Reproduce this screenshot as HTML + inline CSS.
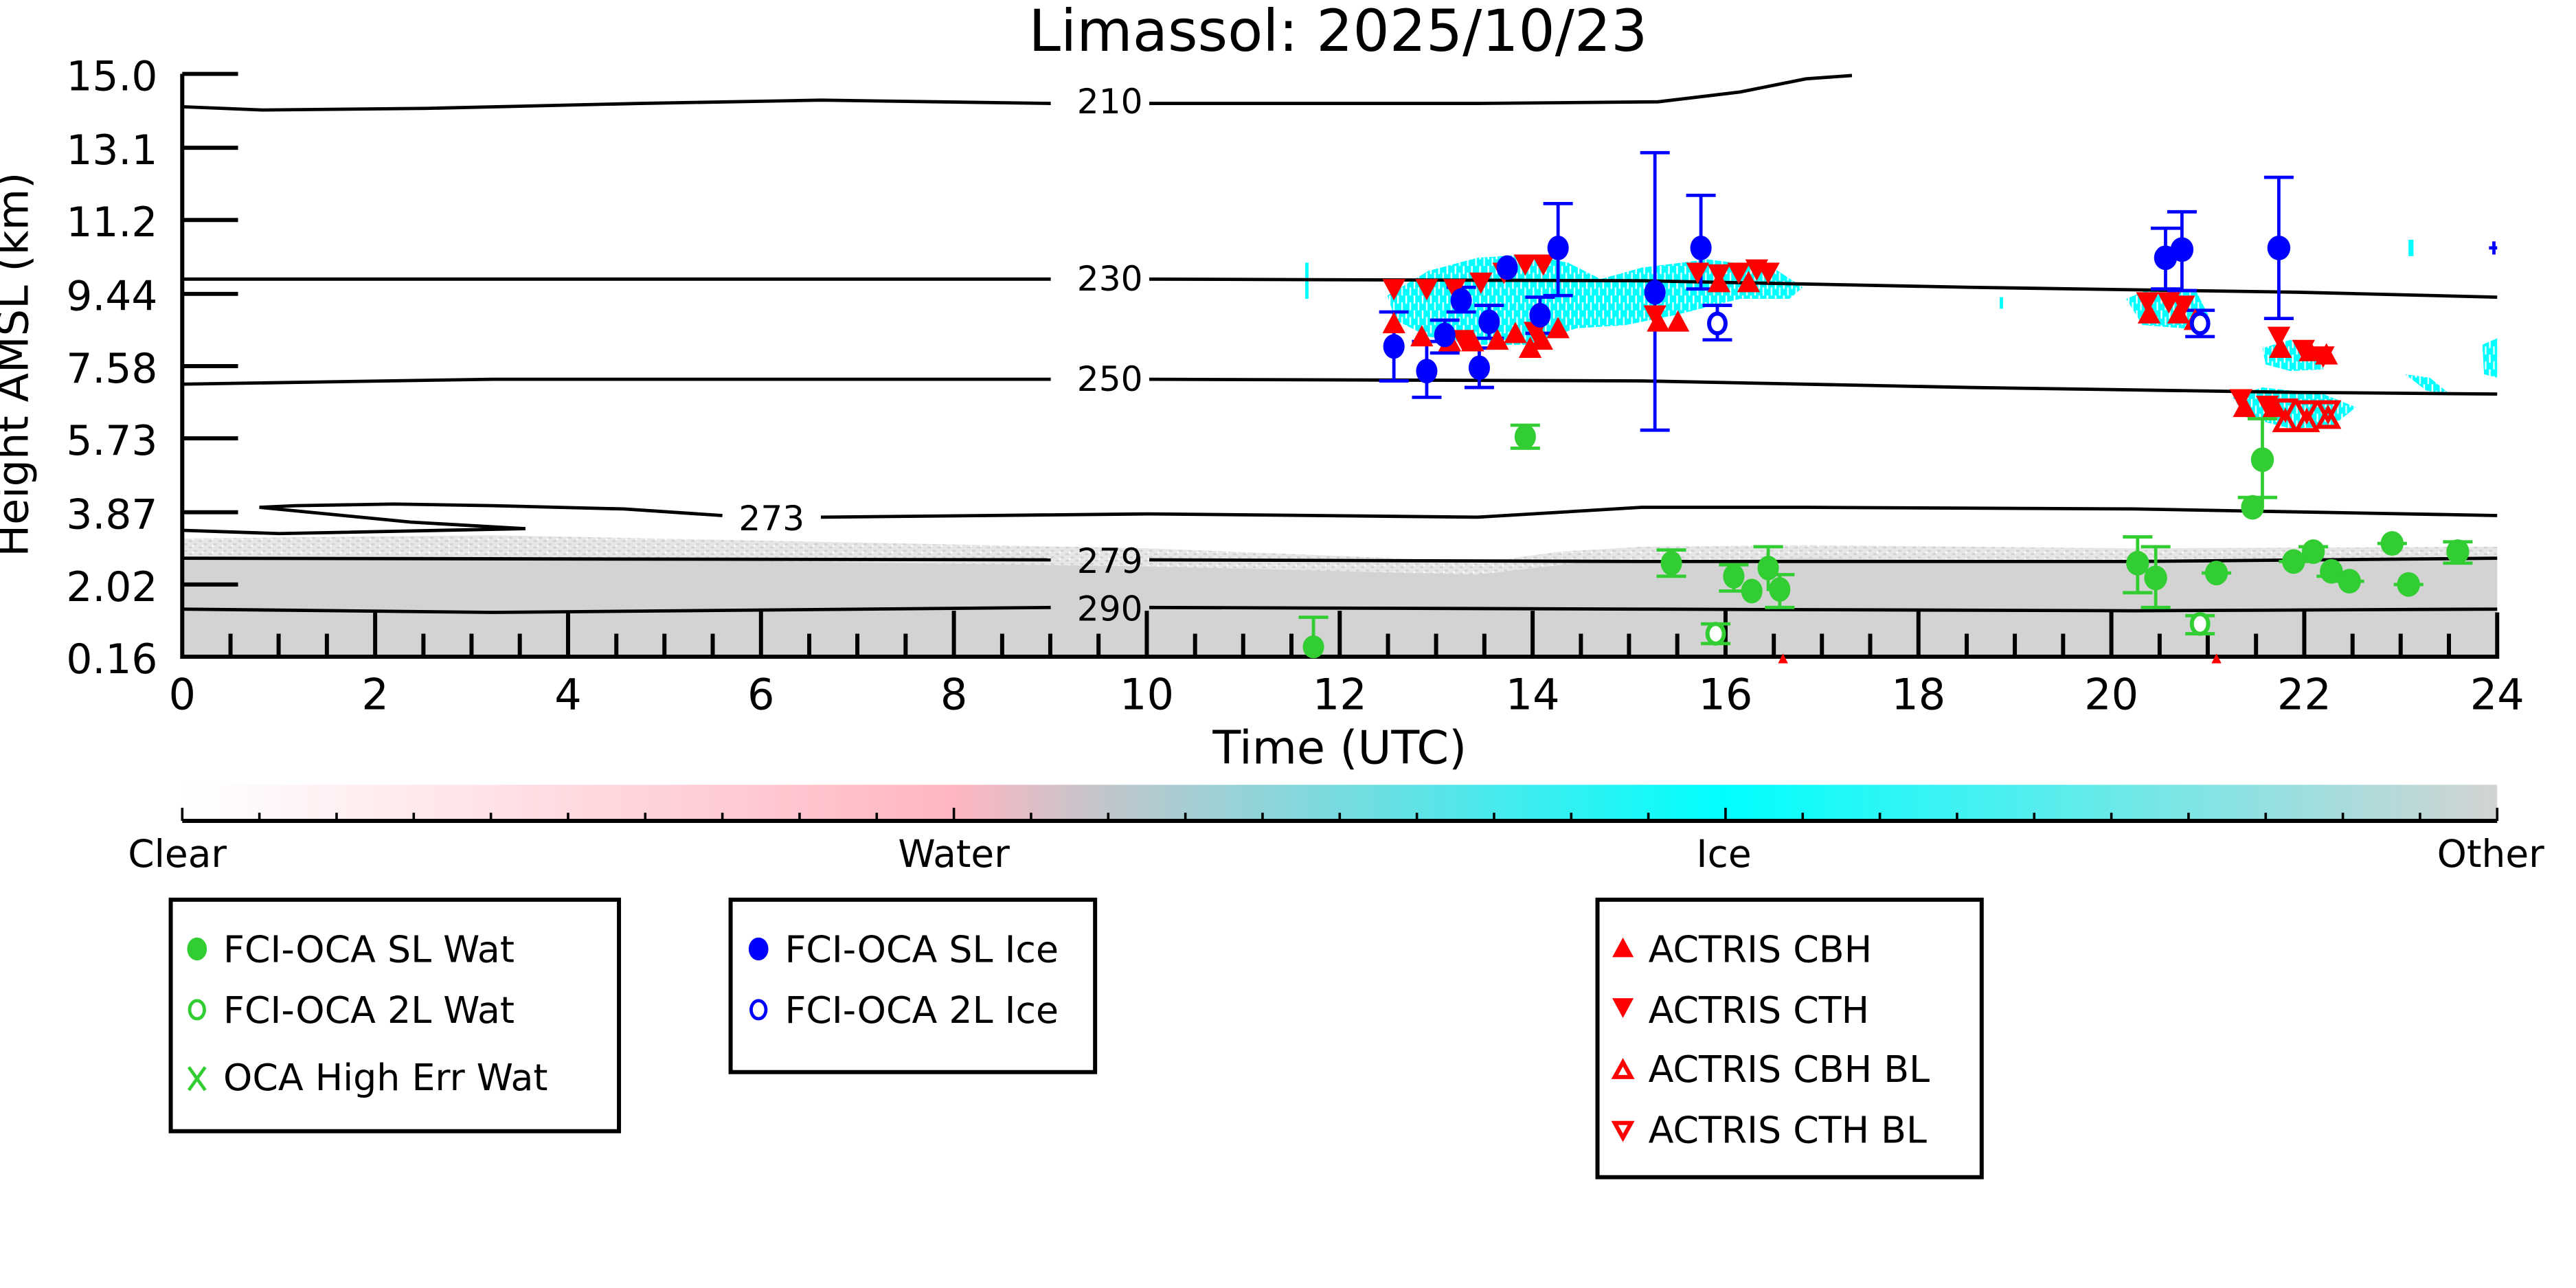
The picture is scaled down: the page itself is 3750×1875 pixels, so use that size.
<!DOCTYPE html>
<html><head><meta charset="utf-8"><style>
html,body{margin:0;padding:0;background:#fff;}
svg{display:block;}
text{font-family:"DejaVu Sans","Liberation Sans",sans-serif;}
</style></head><body>
<svg width="3750" height="1875" viewBox="0 0 1569 784.5" xmlns="http://www.w3.org/2000/svg">
<defs>
<linearGradient id="cb" x1="0" x2="1" y1="0" y2="0">
<stop offset="0" stop-color="#ffffff"/>
<stop offset="0.333" stop-color="#ffb6c1"/>
<stop offset="0.4" stop-color="#bfc6cc"/>
<stop offset="0.667" stop-color="#00ffff"/>
<stop offset="1" stop-color="#d3d3d3"/>
</linearGradient>
<pattern id="spk" width="6" height="4" patternUnits="userSpaceOnUse">
<rect width="6" height="4" fill="#e6e6e6"/>
<rect x="1" y="1" width="2" height="1" fill="#cfcfcf"/>
<rect x="4" y="3" width="2" height="1" fill="#d0d0d0"/>
<rect x="3" y="0" width="1" height="1" fill="#fff"/>
</pattern>
<pattern id="cy" width="5" height="9" patternUnits="userSpaceOnUse">
<rect width="5" height="9" fill="#00ffff"/>
<rect x="1" y="0" width="1" height="5" fill="#fff"/>
<rect x="3.5" y="4" width="1" height="5" fill="#e0ffff"/>
</pattern>
</defs>
<text x="815" y="31" font-size="35" text-anchor="middle">Limassol: 2025/10/23</text>

<!-- grey region -->
<path d="M111,328 L300,326 L500,330 L700,334 L850,340 L900,343 L950,336 L1000,333 L1100,332 L1300,334 L1521,333 L1521,400 L111,400 Z" fill="url(#spk)"/>
<path d="M111,339 L400,341 L700,345 L900,350 L960,343 L1100,340 L1300,342 L1521,340 L1521,400 L111,400 Z" fill="#d3d3d3"/>

<!-- cyan clouds -->
<g fill="url(#cy)">
<path d="M845,180 L870,165 L900,157 L930,155 L955,160 L975,170 L1000,163 L1040,158 L1080,163 L1098,175 L1090,182 L1060,182 L1020,192 L990,198 L960,200 L930,210 L900,210 L870,205 L850,195 Z"/>
<path d="M1295,182 L1312,175 L1338,178 L1345,192 L1330,200 L1305,198 Z"/>
<path d="M1378,212 L1395,207 L1415,213 L1415,225 L1395,226 L1380,222 Z"/>
<path d="M1360,242 L1378,236 L1415,240 L1435,248 L1420,260 L1395,261 L1368,254 Z"/>
<path d="M1465,228 L1480,230 L1492,240 L1478,238 Z"/>
<path d="M1512,210 L1521,206 L1521,230 L1513,228 Z"/>
</g>
<g fill="#00ffff">
<rect x="795" y="160" width="2" height="22"/>
<rect x="1218" y="181" width="2" height="7"/>
<rect x="1467" y="146" width="3" height="10"/>
</g>

<!-- contours -->
<g fill="none" stroke="#000" stroke-width="2">
<path d="M111,65 L160,67 L260,66 L390,63 L500,61 L640,63"/>
<path d="M700,63 L900,63 L1010,62 L1060,56 L1100,48 L1128,46"/>
<path d="M111,170 L640,170"/>
<path d="M700,170 L1000,171 L1200,175 L1400,178 L1521,181"/>
<path d="M111,234 L300,231 L640,231"/>
<path d="M700,231 L1000,232 L1200,236 L1400,239 L1521,240"/>
<path d="M320,322 L250,318 L158,309 L180,308 L240,307 L300,308 L380,310 L440,314"/>
<path d="M111,323 L170,325 L320,322"/>
<path d="M500,315 L700,313 L900,315 L1000,309 L1100,309 L1300,310 L1521,314"/>
<path d="M111,340 L640,341"/>
<path d="M700,341 L1000,342 L1300,342 L1521,340"/>
<path d="M111,371 L300,373 L640,370"/>
<path d="M700,370 L1000,371 L1300,372 L1521,371"/>
</g>
<g font-size="21">
<text x="676" y="69" text-anchor="middle">210</text>
<text x="676" y="177" text-anchor="middle">230</text>
<text x="676" y="238" text-anchor="middle">250</text>
<text x="470" y="323" text-anchor="middle">273</text>
<text x="676" y="349" text-anchor="middle">279</text>
<text x="676" y="378" text-anchor="middle">290</text>
</g>

<!-- axes -->
<g stroke="#000" stroke-width="2.5" fill="none">
<path d="M111,45 L111,400 L1521,400 L1521,373"/>
<path d="M111,45 H145 M111,90 H145 M111,134 H145 M111,179 H145 M111,223 H145 M111,267 H145 M111,312 H145 M111,356 H145"/>
<path d="M228.5,400 V372 M346,400 V372 M463.5,400 V372 M581,400 V372 M698.5,400 V372 M816,400 V372 M933.5,400 V372 M1051,400 V372 M1168.5,400 V372 M1286,400 V372 M1403.5,400 V372"/>
<path d="M140.4,400 V386 M169.7,400 V386 M199.1,400 V386 M257.9,400 V386 M287.2,400 V386 M316.6,400 V386 M375.4,400 V386 M404.7,400 V386 M434.1,400 V386 M492.9,400 V386 M522.2,400 V386 M551.6,400 V386 M610.4,400 V386 M639.7,400 V386 M669.1,400 V386 M727.9,400 V386 M757.2,400 V386 M786.6,400 V386 M845.4,400 V386 M874.7,400 V386 M904.1,400 V386 M962.9,400 V386 M992.2,400 V386 M1021.6,400 V386 M1080.4,400 V386 M1109.7,400 V386 M1139.1,400 V386 M1197.9,400 V386 M1227.2,400 V386 M1256.6,400 V386 M1315.4,400 V386 M1344.7,400 V386 M1374.1,400 V386 M1432.9,400 V386 M1462.2,400 V386 M1491.6,400 V386"/>
</g>
<g font-size="25" text-anchor="end">
<text x="96" y="55">15.0</text>
<text x="96" y="100">13.1</text>
<text x="96" y="144">11.2</text>
<text x="96" y="189">9.44</text>
<text x="96" y="233">7.58</text>
<text x="96" y="277">5.73</text>
<text x="96" y="322">3.87</text>
<text x="96" y="366">2.02</text>
<text x="96" y="410">0.16</text>
</g>
<g font-size="26" text-anchor="middle">
<text x="111" y="432">0</text><text x="228.5" y="432">2</text><text x="346" y="432">4</text><text x="463.5" y="432">6</text><text x="581" y="432">8</text><text x="698.5" y="432">10</text><text x="816" y="432">12</text><text x="933.5" y="432">14</text><text x="1051" y="432">16</text><text x="1168.5" y="432">18</text><text x="1286" y="432">20</text><text x="1403.5" y="432">22</text><text x="1521" y="432">24</text>
</g>
<text x="816" y="465" font-size="28" text-anchor="middle">Time (UTC)</text>
<text transform="translate(17,222) rotate(-90)" font-size="26" text-anchor="middle">Height AMSL (km)</text>

<!-- error bars -->
<g stroke="#0000ff" stroke-width="2" fill="none">
<path d="M849,190 V232 M840,190 H858 M840,232 H858"/>
<path d="M869,208 V242 M860,208 H878 M860,242 H878"/>
<path d="M880,195 V215 M871,195 H889 M871,215 H889"/>
<path d="M890,175 V190 M881,175 H899 M881,190 H899"/>
<path d="M901,212 V236 M892,212 H910 M892,236 H910"/>
<path d="M907,186 V206 M898,186 H916 M898,206 H916"/>
<path d="M938,181 V203 M929,181 H947 M929,203 H947"/>
<path d="M949,124 V180 M940,124 H958 M940,180 H958"/>
<path d="M1008,93 V262 M999,93 H1017 M999,262 H1017"/>
<path d="M1036,119 V176 M1027,119 H1045 M1027,176 H1045"/>
<path d="M1046,186 V207 M1037,186 H1055 M1037,207 H1055"/>
<path d="M1319,139 V176 M1310,139 H1328 M1310,176 H1328"/>
<path d="M1329,129 V177 M1320,129 H1338 M1320,177 H1338"/>
<path d="M1340,189 V205 M1331,189 H1349 M1331,205 H1349"/>
<path d="M1388,108 V194 M1379,108 H1397 M1379,194 H1397"/>
<path d="M1516,151 H1521 M1519,147 V155"/>
</g>
<g stroke="#32cd32" stroke-width="2" fill="none">
<path d="M800,376 V396 M791,376 H809"/>
<path d="M929,259 V273 M920,259 H938 M920,273 H938"/>
<path d="M1018,335 V351 M1009,335 H1027 M1009,351 H1027"/>
<path d="M1056,344 V360 M1047,344 H1065 M1047,360 H1065"/>
<path d="M1077,333 V360 M1068,333 H1086"/>
<path d="M1084,350 V370 M1075,370 H1093 M1075,350 H1093"/>
<path d="M1045,380 V392 M1036,380 H1054 M1036,392 H1054"/>
<path d="M1302,327 V361 M1293,327 H1311 M1293,361 H1311"/>
<path d="M1313,333 V370 M1304,333 H1322 M1304,370 H1322"/>
<path d="M1340,375 V386 M1331,375 H1349 M1331,386 H1349"/>
<path d="M1378,255 V309 M1369,255 H1387 M1363,303 H1387"/>
<path d="M1341,349 H1359 M1388,342 H1406 M1400,333 H1418 M1411,351 H1429 M1422,354 H1440 M1448,331 H1466 M1458,356 H1476 M1488,330 H1506 M1488,343 H1506"/>
</g>

<!-- red triangles -->
<g fill="#ff0000">
<path d="M842,170 h14 l-7,13z M862,170 h14 l-7,13z M879,170 h14 l-7,13z M895,166 h14 l-7,13z M909,160 h14 l-7,13z M922,155 h14 l-7,13z M933,155 h14 l-7,13z M884,201 h14 l-7,13z M928,196 h14 l-7,13z M1001,186 h14 l-7,13z M1027,160 h14 l-7,13z M1040,161 h14 l-7,13z M1052,160 h14 l-7,13z M1063,158 h14 l-7,13z M1070,160 h14 l-7,13z M1301,178 h14 l-7,13z M1314,178 h14 l-7,13z M1323,180 h14 l-7,13z M1381,199 h14 l-7,13z M1396,207 h14 l-7,13z M1408,211 h14 l-7,13z M1358,237 h14 l-7,13z M1374,241 h14 l-7,13z"/>
<path d="M842,203 h14 l-7,-13z M859,211 h14 l-7,-13z M876,214 h14 l-7,-13z M890,214 h14 l-7,-13z M905,213 h14 l-7,-13z M916,209 h14 l-7,-13z M932,213 h14 l-7,-13z M942,206 h14 l-7,-13z M925,218 h14 l-7,-13z M1003,202 h14 l-7,-13z M1015,202 h14 l-7,-13z M1040,178 h14 l-7,-13z M1058,178 h14 l-7,-13z M1302,197 h14 l-7,-13z M1320,197 h14 l-7,-13z M1330,201 h14 l-7,-13z M1382,218 h14 l-7,-13z M1400,220 h14 l-7,-13z M1410,222 h14 l-7,-13z M1360,254 h14 l-7,-13z M1378,254 h14 l-7,-13z M1083,404 h6 l-3,-6z M1347,404 h6 l-3,-6z"/>
</g>
<g fill="none" stroke="#ff0000" stroke-width="2.5">
<path d="M1386,244 h12 l-6,11z M1399,245 h12 l-6,11z M1412,245 h12 l-6,11z M1386,262 h12 l-6,-11z M1399,262 h12 l-6,-11z M1412,260 h12 l-6,-11z"/>
</g>

<!-- markers -->
<g fill="#0000ff">
<ellipse cx="849" cy="211" rx="6.5" ry="7.5"/><ellipse cx="869" cy="226" rx="6.5" ry="7.5"/><ellipse cx="880" cy="204" rx="6.5" ry="7.5"/><ellipse cx="890" cy="183" rx="6.5" ry="7.5"/><ellipse cx="901" cy="224" rx="6.5" ry="7.5"/><ellipse cx="907" cy="196" rx="6.5" ry="7.5"/><ellipse cx="918" cy="163" rx="6.5" ry="7.5"/><ellipse cx="938" cy="192" rx="6.5" ry="7.5"/><ellipse cx="949" cy="151" rx="6.5" ry="7.5"/><ellipse cx="1008" cy="178" rx="6.5" ry="7.5"/><ellipse cx="1036" cy="151" rx="6.5" ry="7.5"/><ellipse cx="1319" cy="157" rx="7" ry="7.5"/><ellipse cx="1329" cy="152" rx="7" ry="7.5"/><ellipse cx="1388" cy="151" rx="7" ry="7.5"/>
</g>
<g fill="#fff" stroke="#0000ff" stroke-width="2.5">
<ellipse cx="1046" cy="197" rx="5" ry="6"/><ellipse cx="1340" cy="197" rx="5" ry="6"/>
</g>
<g fill="#32cd32">
<ellipse cx="800" cy="394" rx="6.5" ry="7"/><ellipse cx="929" cy="266" rx="6.5" ry="7.5"/><ellipse cx="1018" cy="343" rx="6.5" ry="7.5"/><ellipse cx="1056" cy="351" rx="6.5" ry="7.5"/><ellipse cx="1067" cy="360" rx="6.5" ry="7.5"/><ellipse cx="1077" cy="346" rx="6.5" ry="7.5"/><ellipse cx="1084" cy="359" rx="6.5" ry="7.5"/><ellipse cx="1302" cy="343" rx="7" ry="7.5"/><ellipse cx="1313" cy="352" rx="7" ry="7.5"/><ellipse cx="1350" cy="349" rx="7" ry="7.5"/><ellipse cx="1372" cy="309" rx="7" ry="7.5"/><ellipse cx="1378" cy="280" rx="7" ry="7.5"/><ellipse cx="1397" cy="342" rx="7" ry="7.5"/><ellipse cx="1409" cy="336" rx="7" ry="7.5"/><ellipse cx="1420" cy="348" rx="7" ry="7.5"/><ellipse cx="1431" cy="354" rx="7" ry="7.5"/><ellipse cx="1457" cy="331" rx="7" ry="7.5"/><ellipse cx="1467" cy="356" rx="7" ry="7.5"/><ellipse cx="1497" cy="336" rx="7" ry="7.5"/>
</g>
<g fill="#fff" stroke="#32cd32" stroke-width="2.5">
<ellipse cx="1045" cy="386" rx="5" ry="6"/><ellipse cx="1340" cy="380" rx="5" ry="6"/>
</g>

<!-- colorbar -->
<rect x="111" y="478" width="1410" height="22" fill="url(#cb)"/>
<path d="M111,500 H1521" stroke="#000" stroke-width="2.5"/>
<g stroke="#000" stroke-width="1.5">
<path d="M111,500 V492 M158,500 V495 M205,500 V495 M252,500 V495 M299,500 V495 M346,500 V495 M393,500 V495 M440,500 V495 M487,500 V495 M534,500 V495 M581,500 V492 M628,500 V495 M675,500 V495 M722,500 V495 M769,500 V495 M816,500 V495 M863,500 V495 M910,500 V495 M957,500 V495 M1004,500 V495 M1051,500 V492 M1098,500 V495 M1145,500 V495 M1192,500 V495 M1239,500 V495 M1286,500 V495 M1333,500 V495 M1380,500 V495 M1427,500 V495 M1474,500 V495 M1521,500 V492"/>
</g>
<g font-size="23" text-anchor="middle">
<text x="108" y="528">Clear</text><text x="581" y="528">Water</text><text x="1050" y="528">Ice</text><text x="1517" y="528">Other</text>
</g>

<!-- legends -->
<g fill="none" stroke="#000" stroke-width="2.5">
<rect x="104" y="548" width="273" height="141"/>
<rect x="445" y="548" width="222" height="105"/>
<rect x="973" y="548" width="234" height="169"/>
</g>
<g font-size="22.5">
<ellipse cx="120" cy="578" rx="6" ry="7" fill="#32cd32"/>
<text x="136" y="586">FCI-OCA SL Wat</text>
<ellipse cx="120" cy="615" rx="4.5" ry="5.5" fill="#fff" stroke="#32cd32" stroke-width="2"/>
<text x="136" y="623">FCI-OCA 2L Wat</text>
<path d="M115,650 L125,664 M125,650 L115,664" stroke="#32cd32" stroke-width="2"/>
<text x="136" y="664">OCA High Err Wat</text>
<ellipse cx="462" cy="578" rx="6" ry="7" fill="#0000ff"/>
<text x="478" y="586">FCI-OCA SL Ice</text>
<ellipse cx="462" cy="615" rx="4.5" ry="5.5" fill="#fff" stroke="#0000ff" stroke-width="2"/>
<text x="478" y="623">FCI-OCA 2L Ice</text>
<path d="M982,583 h13 l-6.5,-12z" fill="#ff0000"/>
<text x="1004" y="586">ACTRIS CBH</text>
<path d="M982,608 h13 l-6.5,12z" fill="#ff0000"/>
<text x="1004" y="623">ACTRIS CTH</text>
<path d="M983.5,656 h10 l-5,-9z" fill="#fff" stroke="#ff0000" stroke-width="2.5"/>
<text x="1004" y="659">ACTRIS CBH BL</text>
<path d="M983.5,684 h10 l-5,9z" fill="#fff" stroke="#ff0000" stroke-width="2.5"/>
<text x="1004" y="696">ACTRIS CTH BL</text>
</g>
</svg>
</body></html>
